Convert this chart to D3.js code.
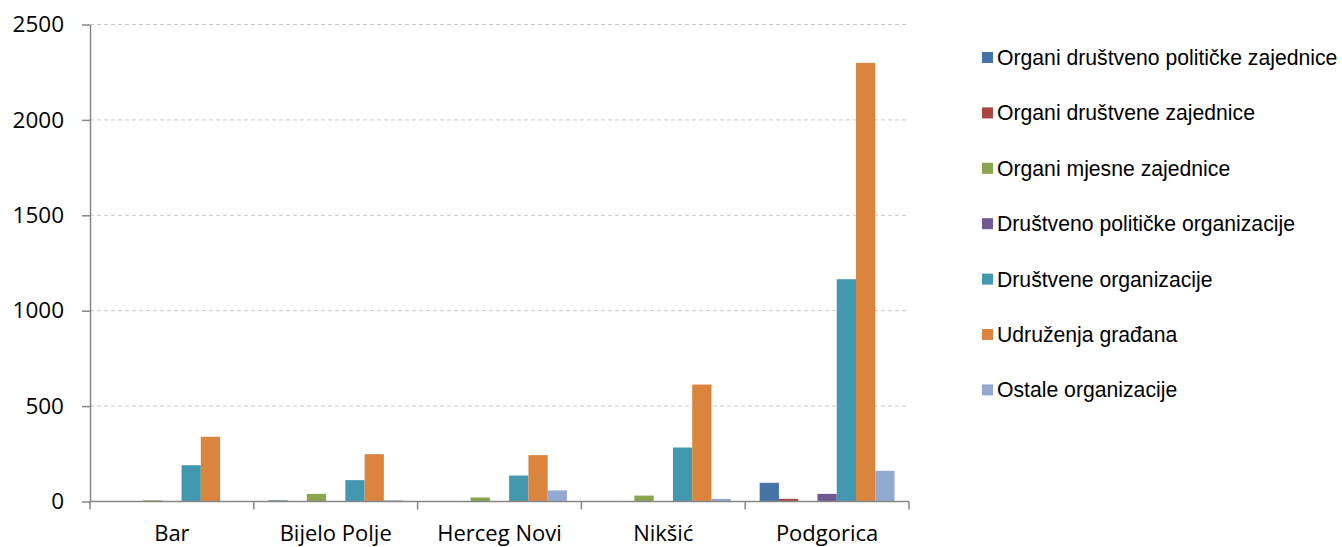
<!DOCTYPE html>
<html>
<head>
<meta charset="utf-8">
<script src="https://cdn.jsdelivr.net/npm/d3@7"></script>
<style>
  body { margin: 0; background: #fff; }
  svg { display: block; }
</style>
</head>
<body>
<div id="chart"></div>
<script>
"use strict";

// Categories (x axis) and series.
var cities = ["Bar", "Bijelo Polje", "Herceg Novi", "Nikšić", "Podgorica"];
var seriesNames = [
    "Organi društveno političke zajednice",
    "Organi društvene zajednice",
    "Organi mjesne zajednice",
    "Društveno političke organizacije",
    "Društvene organizacije",
    "Udruženja građana",
    "Ostale organizacije"
];
var organiDPZ = [0, 6, 0, 0, 98];
var organiDZ = [0, 0, 0, 0, 14];
var organiMZ = [6, 40, 21, 31, 0];
var dpOrganizacije = [0, 0, 0, 0, 40];
var drustveneOrg = [190, 112, 136, 283, 1165];
var udruzenja = [339, 248, 243, 613, 2299];
var ostale = [0, 6, 58, 14, 161];
var yTicks = [0, 500, 1000, 1500, 2000, 2500];

var seriesValues = [organiDPZ, organiDZ, organiMZ, dpOrganizacije, drustveneOrg, udruzenja, ostale];
var colors = ["#4572A7", "#AA4643", "#89A54E", "#71588F", "#4198AF", "#DB843D", "#93A9CF"];

var width = 1342, height = 547;
var margin = {top: 24.5, left: 90, bottom: 45.5, right: 433};
var chartWidth = width - margin.left - margin.right;
var chartHeight = height - margin.top - margin.bottom;

var svg = d3.select("#chart").append("svg")
    .attr("width", width)
    .attr("height", height);

var chart = svg.append("g")
    .attr("transform", "translate(" + [margin.left, margin.top] + ")");

// Scales: one band per city, bars inside with a 150% gap like Excel.
var x0 = d3.scaleBand().domain(cities).range([0, chartWidth]).paddingInner(0).paddingOuter(0);
var groupPad = x0.bandwidth() * 1.5 / (seriesNames.length + 1.5) / 2;
var x1 = d3.scaleBand().domain(d3.range(seriesNames.length))
    .range([groupPad, x0.bandwidth() - groupPad]).padding(0);
var y = d3.scaleLinear().domain([0, 2500]).range([chartHeight, 0]);

// Gridlines
chart.append("g").selectAll("line")
    .data(yTicks.slice(1))
    .enter().append("line")
    .attr("x1", 0).attr("x2", chartWidth)
    .attr("y1", function (d) { return y(d); })
    .attr("y2", function (d) { return y(d); })
    .attr("stroke", "#c8c8c8")
    .attr("stroke-width", 1)
    .attr("stroke-dasharray", "4,3");

// Bars
var rows = [];
cities.forEach(function (c, ci) {
    seriesValues.forEach(function (vals, si) {
        rows.push({city: c, s: si, v: vals[ci]});
    });
});

chart.append("g").selectAll("rect")
    .data(rows.filter(function (d) { return d.v > 0; }))
    .enter().append("rect")
    .attr("x", function (d) { return x0(d.city) + x1(d.s); })
    .attr("y", function (d) { return y(d.v); })
    .attr("width", x1.bandwidth())
    .attr("height", function (d) { return chartHeight - y(d.v); })
    .attr("fill", function (d) { return colors[d.s]; });

// Y axis
var yAxis = chart.append("g")
    .call(d3.axisLeft(y).tickValues(yTicks).tickFormat(d3.format("d"))
        .tickSize(8).tickSizeOuter(0).tickPadding(18));
yAxis.select(".domain").attr("stroke", "#868686").attr("stroke-width", 1.5);
yAxis.selectAll(".tick line").attr("stroke", "#868686").attr("stroke-width", 1.5);
yAxis.selectAll("text")
    .attr("font-family", "'Open Sans', sans-serif")
    .attr("font-size", "22.5px")
    .attr("fill", "#000");

// X axis with ticks at category boundaries
var xAxisG = chart.append("g").attr("transform", "translate(0," + chartHeight + ")");
xAxisG.append("line")
    .attr("x1", 0).attr("x2", chartWidth)
    .attr("stroke", "#868686").attr("stroke-width", 1.5);
xAxisG.selectAll(".sep")
    .data(d3.range(cities.length + 1))
    .enter().append("line")
    .attr("class", "sep")
    .attr("x1", function (i) { return i * x0.step(); })
    .attr("x2", function (i) { return i * x0.step(); })
    .attr("y1", 0).attr("y2", 8)
    .attr("stroke", "#868686").attr("stroke-width", 1.5);
xAxisG.selectAll(".lbl")
    .data(cities)
    .enter().append("text")
    .attr("class", "lbl")
    .attr("x", function (d) { return x0(d) + x0.bandwidth() / 2; })
    .attr("y", 39)
    .attr("text-anchor", "middle")
    .attr("font-family", "'Open Sans', sans-serif")
    .attr("font-size", "22px")
    .attr("fill", "#000")
    .text(function (d) { return d; });

// Legend
var legend = svg.append("g").attr("transform", "translate(982,52)");
var item = legend.selectAll("g")
    .data(seriesNames)
    .enter().append("g")
    .attr("transform", function (d, i) { return "translate(0," + (i * 55.4) + ")"; });
item.append("rect")
    .attr("width", 11).attr("height", 11)
    .attr("fill", function (d, i) { return colors[i]; });
item.append("text")
    .attr("x", 15)
    .attr("y", 5.5)
    .attr("dy", "0.35em")
    .attr("font-family", "'Liberation Sans', Arial, sans-serif")
    .attr("font-size", "21.2px")
    .attr("fill", "#000")
    .text(function (d) { return d; });
</script>
</body>
</html>
